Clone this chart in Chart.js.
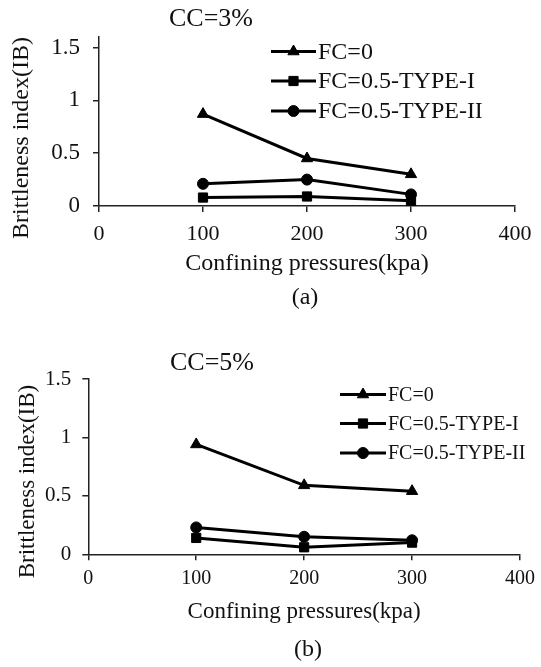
<!DOCTYPE html>
<html>
<head>
<meta charset="utf-8">
<script src="https://cdn.jsdelivr.net/npm/chart.js@4.4.1/dist/chart.umd.min.js"></script>
<style>
  html, body { margin: 0; padding: 0; background: #fff; }
  .box { position: absolute; left: 0; width: 541px; }
  #boxA { top: 0; height: 320px; }
  #boxB { top: 320px; height: 347px; }
</style>
</head>
<body>
<div id="boxA" class="box"><canvas id="chartA"></canvas></div>
<div id="boxB" class="box"><canvas id="chartB"></canvas></div>
<script>
// データ
var pressures = [100, 200, 300];
var seriesNames = ['FC=0', 'FC=0.5-TYPE-I', 'FC=0.5-TYPE-II'];
var markers = ['triangle', 'rect', 'circle'];
var xTicks = [0, 100, 200, 300, 400];
var yTicks = [0, 0.5, 1, 1.5];

// CC=3%
var cc3Fc0 = [0.87, 0.45, 0.30];
var cc3Type1 = [0.08, 0.09, 0.05];
var cc3Type2 = [0.21, 0.25, 0.11];

// CC=5%
var cc5Fc0 = [0.94, 0.59, 0.54];
var cc5Type1 = [0.14, 0.06, 0.10];
var cc5Type2 = [0.23, 0.15, 0.12];

var FONT = '"Liberation Serif", "Times New Roman", serif';
Chart.defaults.font.family = FONT;
Chart.defaults.color = '#111';

function points(values) {
  return pressures.map(function (p, i) { return { x: p, y: values[i] }; });
}

function makeDatasets(list) {
  return list.map(function (values, i) {
    return {
      label: seriesNames[i],
      data: points(values),
      borderColor: '#000',
      backgroundColor: '#000',
      borderWidth: 3,
      pointStyle: markers[i],
      pointRadius: markers[i] === 'circle' ? 5.5 : 6.5,
      pointBackgroundColor: '#000',
      pointBorderColor: '#000',
      pointBorderWidth: 1,
      tension: 0
    };
  });
}

// タイトル・凡例・軸ラベル（縦）・図番号
function annotations(o) {
  return {
    id: 'annotations',
    afterDraw: function (chart) {
      var ctx = chart.ctx;
      ctx.save();
      ctx.fillStyle = '#111';
      ctx.textAlign = 'center';
      ctx.textBaseline = 'middle';
      ctx.font = o.titleSize + 'px ' + FONT;
      ctx.fillText(o.title, o.titleX, o.titleY);
      ctx.font = o.capSize + 'px ' + FONT;
      ctx.fillText(o.caption, o.capX, o.capY);

      ctx.save();
      ctx.translate(o.yTitleX, o.yTitleY);
      ctx.rotate(-Math.PI / 2);
      ctx.font = o.yTitleSize + 'px ' + FONT;
      ctx.fillText('Brittleness index(IB)', 0, 0);
      ctx.restore();

      // 凡例
      chart.data.datasets.forEach(function (ds, i) {
        var y = o.legendY[i];
        ctx.strokeStyle = ds.borderColor;
        ctx.lineWidth = ds.borderWidth;
        ctx.beginPath();
        ctx.moveTo(o.legX0, y);
        ctx.lineTo(o.legX1, y);
        ctx.stroke();
        ctx.fillStyle = ds.pointBackgroundColor;
        ctx.lineWidth = 1;
        Chart.helpers.drawPoint(ctx, { pointStyle: ds.pointStyle, radius: ds.pointRadius, rotation: 0, borderWidth: 1 }, (o.legX0 + o.legX1) / 2, y);
        ctx.fillStyle = '#111';
        ctx.textAlign = 'left';
        ctx.font = o.legSize + 'px ' + FONT;
        ctx.fillText(ds.label, o.legTextX, y + 1);
      });
      ctx.restore();
    }
  };
}

function makeChart(id, list, o) {
  return new Chart(document.getElementById(id), {
    type: 'line',
    data: { datasets: makeDatasets(list) },
    options: {
      responsive: true,
      maintainAspectRatio: false,
      animation: false,
      layout: { padding: { left: 0, top: o.padTop, right: o.padRight, bottom: o.padBottom } },
      plugins: { legend: { display: false }, tooltip: { enabled: false } },
      scales: {
        x: {
          type: 'linear',
          min: 0,
          max: 400,
          afterBuildTicks: function (s) { s.ticks = xTicks.map(function (v) { return { value: v }; }); },
          afterFit: function (s) { s.height = o.xAxisHeight; },
          border: { color: '#222', width: 1.5 },
          grid: { drawOnChartArea: false, drawTicks: true, tickLength: 6, color: '#222', lineWidth: 1.5 },
          ticks: { font: { size: o.xTickSize }, color: '#111', padding: o.xTickPad, maxRotation: 0,
                   callback: function (v) { return String(v); } },
          title: {
            display: true,
            text: 'Confining pressures(kpa)',
            font: { size: o.xTitleSize },
            color: '#111',
            padding: { top: 0, bottom: 0 }
          }
        },
        y: {
          type: 'linear',
          min: 0,
          max: o.yMax,
          afterBuildTicks: function (s) { s.ticks = yTicks.map(function (v) { return { value: v }; }); },
          afterFit: function (s) { s.width = o.yAxisWidth; },
          border: { color: '#222', width: 1.5 },
          grid: { drawOnChartArea: false, drawTicks: true, tickLength: 6, color: '#222', lineWidth: 1.5 },
          // 目盛りは 0, 0.5, 1, 1.5 の表記
          ticks: { font: { size: o.yTickSize }, color: '#111', padding: o.yTickPad,
                   callback: function (v) { return String(v); } }
        }
      }
    },
    plugins: [annotations(o)]
  });
}

// (a) CC=3%
makeChart('chartA', [cc3Fc0, cc3Type1, cc3Type2], {
  padTop: 37, padRight: 26, padBottom: 42,
  xAxisHeight: 72, yAxisWidth: 99, yMax: 1.6,
  xTickSize: 22, xTickPad: 9, xTitleSize: 24,
  yTickSize: 23, yTickPad: 13,
  title: 'CC=3%', titleX: 211, titleY: 19, titleSize: 26,
  caption: '(a)', capX: 305, capY: 298, capSize: 24,
  yTitleX: 22, yTitleY: 138, yTitleSize: 24,
  legendY: [51.5, 81, 111], legX0: 271, legX1: 316, legTextX: 318, legSize: 24
});

// (b) CC=5%
makeChart('chartB', [cc5Fc0, cc5Type1, cc5Type2], {
  padTop: 59, padRight: 15, padBottom: 41.5,
  xAxisHeight: 71.2, yAxisWidth: 88.3, yMax: 1.5,
  xTickSize: 20, xTickPad: 6, xTitleSize: 23,
  yTickSize: 21, yTickPad: 11,
  title: 'CC=5%', titleX: 212, titleY: 43.5, titleSize: 26,
  caption: '(b)', capX: 308, capY: 330, capSize: 24,
  yTitleX: 28, yTitleY: 161.5, yTitleSize: 23,
  legendY: [74.5, 103.5, 133], legX0: 340, legX1: 386, legTextX: 388, legSize: 20
});
</script>
</body>
</html>
